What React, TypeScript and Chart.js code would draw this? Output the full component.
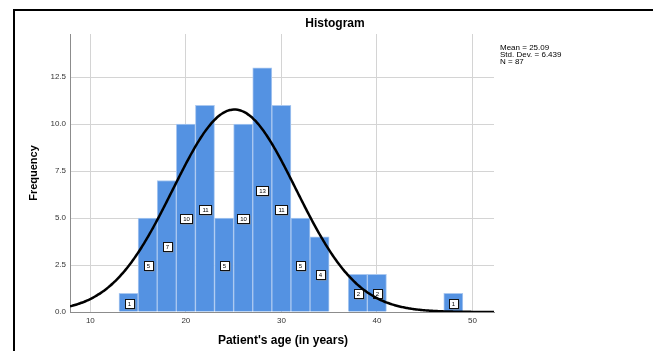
import { useEffect, useRef } from "react";
import { Chart, registerables } from "chart.js";

Chart.register(...registerables);

// ---- data ----
const BIN_CENTERS = [14, 16, 18, 20, 22, 24, 26, 28, 30, 32, 34, 36, 38, 40, 42, 44, 46, 48];
const FREQUENCIES = [1, 5, 7, 10, 11, 5, 10, 13, 11, 5, 4, 0, 2, 2, 0, 0, 0, 1];
const BIN_WIDTH = 2;
const MEAN = 25.09;
const STD_DEV = 6.439;
const N = 87;
const X_TICKS = [10, 20, 30, 40, 50];
const Y_TICKS = [0, 2.5, 5, 7.5, 10, 12.5];
const STATS_LINES = ["Mean = 25.09", "Std. Dev. = 6.439", "N = 87"];
const TITLE = "Histogram";
const X_TITLE = "Patient's age (in years)";
const Y_TITLE = "Frequency";
const X_MIN = 7.87;
const X_MAX = 52.26;
const Y_MAX = 14.8;

const FONT = "'Liberation Sans', Arial, sans-serif";

function normalCurve() {
  const pts: { x: number; y: number }[] = [];
  const k = (N * BIN_WIDTH) / (STD_DEV * Math.sqrt(2 * Math.PI));
  const steps = 220;
  for (let i = 0; i <= steps; i++) {
    const x = X_MIN + ((X_MAX - X_MIN) * i) / steps;
    const z = (x - MEAN) / STD_DEV;
    pts.push({ x, y: k * Math.exp(-0.5 * z * z) });
  }
  return pts;
}

const barLabelPlugin = {
  id: "barLabels",
  afterDatasetDraw(chart: any, args: any) {
    if (args.index !== 1) return;
    const ctx = chart.ctx;
    const yScale = chart.scales.y;
    const meta = chart.getDatasetMeta(1);
    ctx.save();
    ctx.font = `6px ${FONT}`;
    ctx.textAlign = "center";
    ctx.textBaseline = "middle";
    meta.data.forEach((el: any, i: number) => {
      const v = FREQUENCIES[i];
      if (!v) return;
      const cx = Math.round(el.x);
      const cy = Math.round(yScale.getPixelForValue(v / 2));
      const txt = String(v);
      const w = Math.max(7, Math.ceil(ctx.measureText(txt).width) + 5);
      const h = 9;
      const x0 = cx - Math.floor(w / 2) + 0.5;
      const y0 = cy - Math.floor(h / 2) + 0.5;
      ctx.fillStyle = "#8a8a8a";
      ctx.fillRect(x0 + 1, y0 + 1, w, h);
      ctx.fillStyle = "#ffffff";
      ctx.fillRect(x0, y0, w, h);
      ctx.strokeStyle = "#111111";
      ctx.lineWidth = 1;
      ctx.strokeRect(x0, y0, w, h);
      ctx.fillStyle = "#000000";
      ctx.fillText(txt, cx + 0.5, cy + 1);
    });
    ctx.restore();
  },
};

const extrasPlugin = {
  id: "extras",
  afterDraw(chart: any) {
    const ctx = chart.ctx;
    ctx.save();
    // frame
    ctx.strokeStyle = "#000000";
    ctx.lineWidth = 2;
    ctx.strokeRect(14, 10, 800, 500);
    // title
    ctx.fillStyle = "#000000";
    ctx.textAlign = "center";
    ctx.textBaseline = "middle";
    ctx.font = `bold 12px ${FONT}`;
    ctx.fillText(TITLE, 335, 24);
    // x title
    ctx.font = `bold 12px ${FONT}`;
    ctx.fillText(X_TITLE, 283, 341);
    // y title
    ctx.save();
    ctx.translate(34, 173);
    ctx.rotate(-Math.PI / 2);
    ctx.font = `bold 11px ${FONT}`;
    ctx.fillText(Y_TITLE, 0, 0);
    ctx.restore();
    // stats
    ctx.textAlign = "left";
    ctx.font = `8px ${FONT}`;
    STATS_LINES.forEach((l, i) => ctx.fillText(l, 500, 48 + i * 7));
    ctx.restore();
  },
};

export default function App() {
  const ref = useRef<HTMLCanvasElement | null>(null);
  useEffect(() => {
    if (!ref.current) return;
    const chart = new Chart(ref.current, {
      type: "bar",
      data: {
        datasets: [
          {
            type: "line",
            data: normalCurve(),
            borderColor: "#000000",
            borderWidth: 2.5,
            pointRadius: 0,
            tension: 0.3,
            fill: false,
            order: 0,
          } as any,
          {
            type: "bar",
            data: BIN_CENTERS.map((x, i) => ({ x, y: FREQUENCIES[i] })),
            backgroundColor: "rgb(84,146,226)",
            borderColor: "rgb(170,200,240)",
            borderWidth: 1,
            barPercentage: 1,
            categoryPercentage: 1,
            order: 1,
          } as any,
        ],
      },
      options: {
        animation: false,
        responsive: false,
        maintainAspectRatio: false,
        layout: { padding: { left: 0, top: 34, right: 159, bottom: 0 } },
        plugins: { legend: { display: false }, tooltip: { enabled: false }, title: { display: false } },
        scales: {
          x: {
            type: "linear",
            min: X_MIN,
            max: X_MAX,
            offset: false,
            afterFit: (s: any) => {
              s.height = 39;
            },
            afterBuildTicks: (s: any) => {
              s.ticks = X_TICKS.map((v) => ({ value: v }));
            },
            ticks: {
              font: { family: FONT, size: 8 },
              color: "#333333",
              padding: 4,
              maxRotation: 0,
              callback: (v: any) => String(v),
            },
            grid: { color: "#d4d4d4", lineWidth: 1, drawTicks: false, offset: false },
            border: { color: "#8c8c8c", width: 1 },
          },
          y: {
            min: 0,
            max: Y_MAX,
            afterFit: (s: any) => {
              s.width = 70;
            },
            afterBuildTicks: (s: any) => {
              s.ticks = Y_TICKS.map((v) => ({ value: v }));
            },
            ticks: {
              font: { family: FONT, size: 8 },
              color: "#333333",
              padding: 4,
              callback: (v: any) => Number(v).toFixed(1),
            },
            grid: { color: "#d4d4d4", lineWidth: 1, drawTicks: false },
            border: { color: "#8c8c8c", width: 1 },
          },
        },
      },
      plugins: [barLabelPlugin, extrasPlugin],
    });
    return () => chart.destroy();
  }, []);
  return (
    <div style={{ position: "absolute", left: 0, top: 0, width: 653, height: 351, background: "#fff", overflow: "hidden" }}>
      <canvas ref={ref} width={653} height={351} style={{ display: "block", width: 653, height: 351 }} />
    </div>
  );
}
